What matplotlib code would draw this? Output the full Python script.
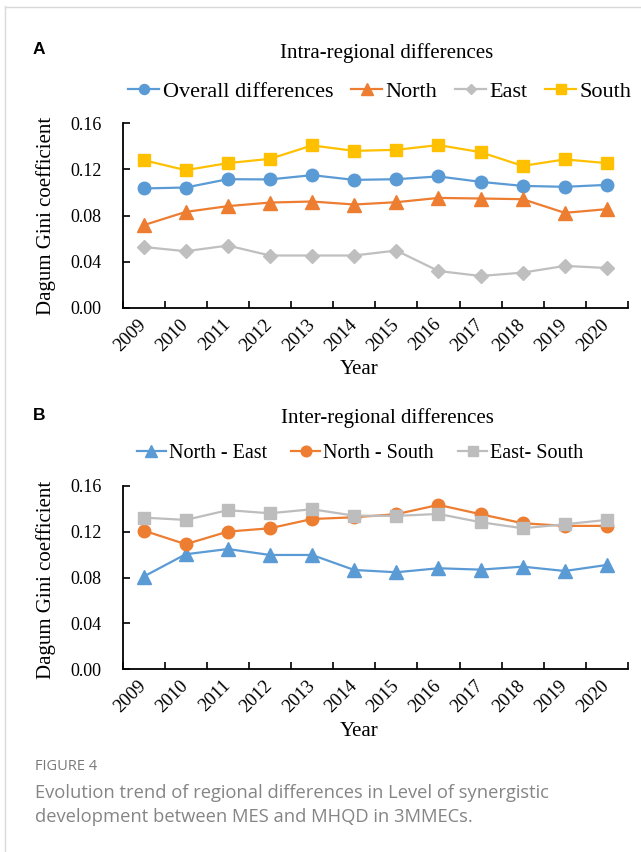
import matplotlib
matplotlib.use("Agg")
import matplotlib.pyplot as plt
from matplotlib.lines import Line2D

years = ["2009", "2010", "2011", "2012", "2013", "2014", "2015", "2016", "2017", "2018", "2019", "2020"]

overall = [0.1034, 0.1042, 0.1114, 0.1112, 0.1149, 0.1108, 0.1114, 0.1138, 0.1091, 0.1056, 0.1048, 0.1065]
north = [0.0716, 0.0831, 0.0881, 0.0912, 0.0921, 0.0895, 0.0915, 0.0952, 0.0947, 0.0941, 0.0823, 0.0855]
east = [0.0528, 0.0491, 0.0540, 0.0454, 0.0454, 0.0454, 0.0497, 0.0320, 0.0277, 0.0306, 0.0364, 0.0346]
south = [0.1279, 0.1192, 0.1253, 0.1290, 0.1406, 0.1359, 0.1368, 0.1409, 0.1348, 0.1229, 0.1285, 0.1253]

north_east = [0.0809, 0.1004, 0.1050, 0.0998, 0.0998, 0.0867, 0.0847, 0.0882, 0.0870, 0.0896, 0.0858, 0.0911]
north_south = [0.1211, 0.1092, 0.1202, 0.1231, 0.1312, 0.1327, 0.1354, 0.1435, 0.1354, 0.1275, 0.1252, 0.1252]
east_south = [0.1324, 0.1304, 0.1389, 0.1362, 0.1397, 0.1341, 0.1339, 0.1356, 0.1284, 0.1231, 0.1266, 0.1304]

yticks = [0.00, 0.04, 0.08, 0.12, 0.16]

BLUE = "#5B9BD5"
ORANGE = "#ED7D31"
GRAY = "#BFBFBF"
GRAY2 = "#BDBDBD"
YELLOW = "#FFC000"

W, H = 641, 852
fig = plt.figure(figsize=(W / 100, H / 100), dpi=100)
SERIF = ["Liberation Serif", "DejaVu Serif"]

def fx(px):
    return px / W

def fy(py):
    return 1 - py / H

# frame lines
fig.add_artist(Line2D([fx(4.5), fx(4.5)], [fy(6), 0], color="#d9d9d9", lw=1.0))
fig.add_artist(Line2D([fx(4.5), 1], [fy(6.5), fy(6.5)], color="#d9d9d9", lw=1.0))


def setup_axes(top, bottom):
    left, right = 122.5, 628
    ax = fig.add_axes([fx(left), fy(bottom), fx(right) - fx(left), fy(top) - fy(bottom)])
    n = len(years)
    ax.set_xlim(-0.5, n - 0.5)
    ax.set_ylim(0, 0.16)
    for s in ["top", "right"]:
        ax.spines[s].set_visible(False)
    for s in ["left", "bottom"]:
        ax.spines[s].set_linewidth(1.3)
    ax.set_xticks([i - 0.5 for i in range(n + 1)])
    ax.set_xticklabels([])
    ax.set_xticks(list(range(n)), minor=True)
    ax.set_xticklabels(years, minor=True, rotation=45, ha="right", va="center",
                       rotation_mode="anchor", fontsize=13.5, family=SERIF)
    ax.tick_params(axis="x", which="major", direction="in", length=5, width=1.2)
    ax.tick_params(axis="x", which="minor", length=0, pad=10)
    ax.set_yticks(yticks)
    ax.set_yticklabels([f"{v:.2f}" for v in yticks], fontsize=13, family=SERIF)
    ax.tick_params(axis="y", direction="in", length=5, width=1.2, pad=15)
    return ax


def add_texts(ax, title, title_y, year_y, ylab_y):
    fig.text(fx(387), fy(title_y), title, ha="center", va="center", fontsize=15, family=SERIF)
    fig.text(fx(359), fy(year_y), "Year", ha="center", va="center", fontsize=15, family=SERIF)
    fig.text(fx(46), fy(ylab_y), "Dagum Gini coefficient", ha="center", va="center",
             rotation=90, fontsize=15, family=SERIF)


lw = 1.6
x = list(range(len(years)))

# Panel A
axA = setup_axes(123, 308)
axA.plot(x, overall, color=BLUE, lw=lw, marker="o", ms=9, label="Overall differences")
axA.plot(x, north, color=ORANGE, lw=lw, marker="^", ms=10, label="North")
axA.plot(x, east, color=GRAY, lw=lw, marker="D", ms=7, label="East")
axA.plot(x, south, color=YELLOW, lw=lw, marker="s", ms=9, label="South")
add_texts(axA, "Intra-regional differences", 53, 370, 216)
fig.legend(*axA.get_legend_handles_labels(), loc="center", bbox_to_anchor=(fx(380), fy(92)),
           ncol=4, frameon=False, prop={"family": SERIF, "size": 16},
           handlelength=1.4, handletextpad=0.15, columnspacing=0.8, markerscale=0.8)

# Panel B
axB = setup_axes(486, 669.3)
axB.plot(x, north_east, color=BLUE, lw=lw, marker="^", ms=10, label="North - East")
axB.plot(x, north_south, color=ORANGE, lw=lw, marker="o", ms=9, label="North - South")
axB.plot(x, east_south, color=GRAY2, lw=lw, marker="s", ms=9, label="East- South")
add_texts(axB, "Inter-regional differences", 418, 732, 580)
fig.legend(*axB.get_legend_handles_labels(), loc="center", bbox_to_anchor=(fx(360), fy(453)),
           ncol=3, frameon=False, prop={"family": SERIF, "size": 14.5},
           handlelength=1.45, handletextpad=0.15, columnspacing=1.2, markerscale=0.85)

# panel letters
fig.text(fx(33), fy(50), "A", ha="left", va="center", fontsize=12.5, fontweight="bold",
         family=["Liberation Sans", "DejaVu Sans"])
fig.text(fx(33), fy(416), "B", ha="left", va="center", fontsize=12.5, fontweight="bold",
         family=["Liberation Sans", "DejaVu Sans"])

# caption
CAP = ["Open Sans", "DejaVu Sans"]
fig.text(fx(35), fy(767), "FIGURE 4", ha="left", va="center", fontsize=10.5, color="#7a7a7a", family=CAP)
fig.text(fx(35), fy(793), "Evolution trend of regional differences in Level of synergistic",
         ha="left", va="center", fontsize=13.2, color="#858585", family=CAP)
fig.text(fx(35), fy(817), "development between MES and MHQD in 3MMECs.",
         ha="left", va="center", fontsize=13.2, color="#858585", family=CAP)

fig.savefig("out.png", dpi=100)
